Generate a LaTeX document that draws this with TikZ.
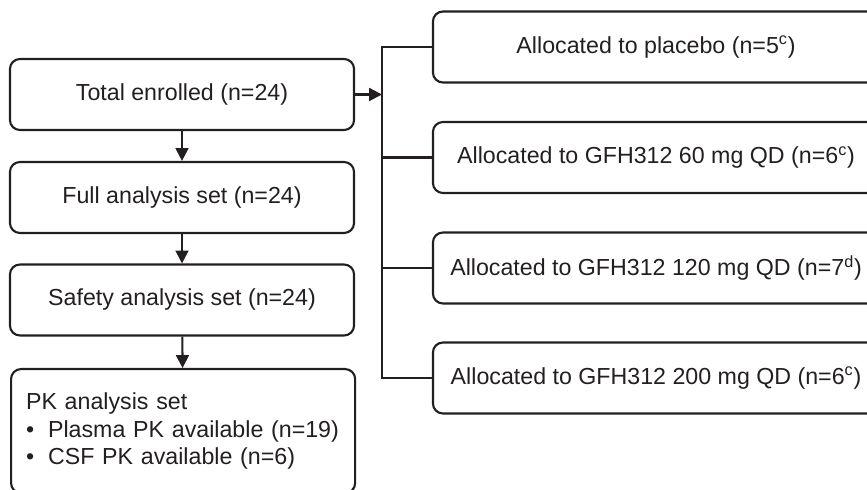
\documentclass[tikz,border=0pt]{standalone}
\usepackage{fontspec}
\setmainfont{Liberation Sans}
\definecolor{inkgray}{RGB}{35, 31, 32}
\usetikzlibrary{arrows.meta, positioning}

\begin{document}
\begin{tikzpicture}[x=0.025cm, y=-0.025cm,
  setbox/.style={draw=inkgray, line width=1.5pt, rounded corners=0.25cm, minimum width=8.6cm, minimum height=1.775cm, inner sep=0pt, text=inkgray, font=\fontsize{16.5}{19.7}\selectfont},
  armbox/.style={setbox, minimum width=11.15cm},
  flow/.style={draw=inkgray, line width=1.5pt, -{Triangle[length=0.32cm, width=0.32cm]}},
  link/.style={draw=inkgray, line width=1.5pt}]
  \useasboundingbox (0,0) rectangle (867,490);
  \clip (0,0) rectangle (867,490);

  % Analysis sets
  \node[setbox] (total) at (182, 94.5) {Total enrolled (n=24)};
  \node[setbox] (full) at (182, 197.5) {Full analysis set (n=24)};
  \node[setbox] (safety) at (182, 300) {Safety analysis set (n=24)};
  \node[setbox, anchor=north west, minimum height=3.1cm, text width=7.85cm, align=left, inner xsep=0.375cm] (pk) at (10, 368) {
    PK analysis set\\
    \makebox[0.95em][l]{\textbullet}Plasma PK available (n=19)\\
    \makebox[0.95em][l]{\textbullet}CSF PK available (n=6)
  };

  % Allocation arms
  \node[armbox] (placebo) at (656, 47) {Allocated to placebo (n=5\textsuperscript{c})};
  \node[armbox] (dose60) at (656, 157.5) {Allocated to GFH312 60 mg QD (n=6\textsuperscript{c})};
  \node[armbox] (dose120) at (656, 268) {Allocated to GFH312 120 mg QD (n=7\textsuperscript{d})};
  \node[armbox] (dose200) at (656, 378) {Allocated to GFH312 200 mg QD (n=6\textsuperscript{c})};

  \coordinate (spine) at (382, 94.5);

  % Connectors
  \draw[flow] (total) -- (full);
  \draw[flow] (full) -- (safety);
  \draw[flow] (safety) -- (pk);
  \draw[flow] (total.east) -- (spine);
  \draw[link] (placebo.west) -- (placebo.west -| spine) -- (dose200.west -| spine) -- (dose200.west);
  \draw[link] (dose60.west -| spine) -- (dose60.west);
  \draw[link] (dose120.west -| spine) -- (dose120.west);
\end{tikzpicture}
\end{document}
